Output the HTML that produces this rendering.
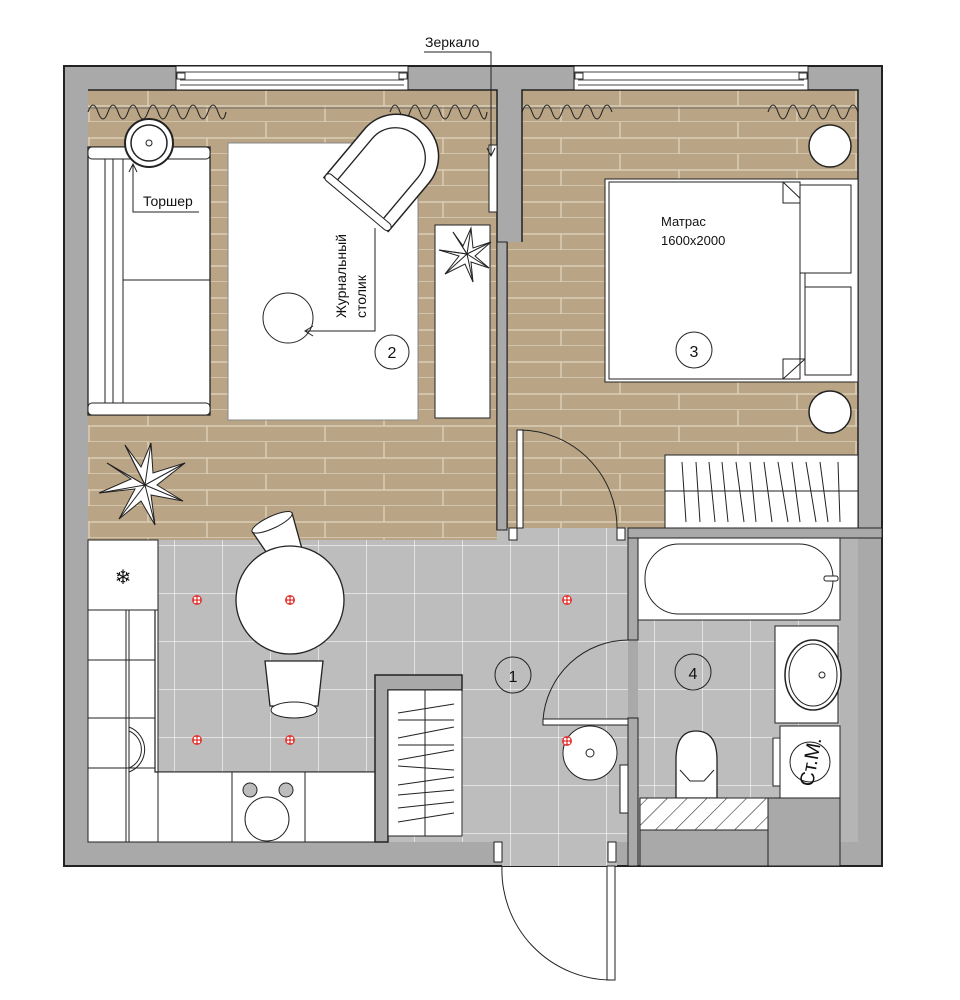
<!DOCTYPE html>
<html><head><meta charset="utf-8"><style>
html,body{margin:0;padding:0;background:#fff;width:960px;height:1000px;overflow:hidden}
svg{display:block}
text{font-family:"Liberation Sans","DejaVu Sans",sans-serif;fill:#111}
</style></head><body>
<svg width="960" height="1000" viewBox="0 0 960 1000" xmlns="http://www.w3.org/2000/svg">
<defs>
<pattern id="wood" x="0" y="90" width="118" height="32" patternUnits="userSpaceOnUse">
<rect width="118" height="32" fill="#b9a585"/>
<path d="M0 16H118M0 32H118M30 0V16M89 16V32" stroke="#e2d6c0" stroke-width="1.2"/>
</pattern>
<pattern id="tile" x="30" y="17" width="48" height="48" patternUnits="userSpaceOnUse">
<rect width="48" height="48" fill="#bdbdbd"/>
<path d="M0 0H48M0 0V48" stroke="#efefef" stroke-width="1.5"/>
</pattern>
<pattern id="hatch" width="14" height="14" patternUnits="userSpaceOnUse" patternTransform="rotate(45)">
<rect width="14" height="14" fill="#fff"/><path d="M0 0V14" stroke="#333" stroke-width="1.2"/>
</pattern>
<g id="dot"><circle r="5" fill="#e53935"/><circle r="1.3" cx="-1.8" cy="-1.8" fill="#fff"/><circle r="1.3" cx="1.8" cy="-1.8" fill="#fff"/><circle r="1.3" cx="-1.8" cy="1.8" fill="#fff"/><circle r="1.3" cx="1.8" cy="1.8" fill="#fff"/></g>
</defs>

<!-- walls -->
<rect x="64" y="66" width="818" height="800" fill="#a9a9a9" stroke="#222" stroke-width="2"/>
<!-- floors -->
<rect x="88" y="90" width="409" height="450" fill="url(#wood)"/>
<rect x="522" y="90" width="336" height="152" fill="url(#wood)"/>
<rect x="507" y="242" width="351" height="286" fill="url(#wood)"/>
<rect x="88" y="540" width="540" height="302" fill="url(#tile)"/>
<rect x="497" y="528" width="131" height="12" fill="url(#tile)"/>
<rect x="638" y="620" width="202" height="178" fill="url(#tile)"/>
<rect x="840" y="528" width="18" height="314" fill="#b5b5b5"/>
<rect x="502" y="842" width="115" height="24" fill="url(#tile)"/>
<!-- floor outlines -->
<path d="M88 90H497V242M522 242V90H858V528" fill="none" stroke="#222" stroke-width="1.5"/>
<path d="M507 242V528M497 242V530" stroke="#222" stroke-width="1.5"/>
<rect x="497" y="242" width="10" height="288" fill="#a9a9a9" stroke="#222" stroke-width="1"/>
<rect x="628" y="528" width="10" height="112" fill="#a9a9a9" stroke="#222"/>
<rect x="628" y="718" width="10" height="148" fill="#a9a9a9" stroke="#222"/>
<rect x="628" y="528" width="254" height="10" fill="#a9a9a9" stroke="#222" stroke-width="1"/>
<!-- windows -->
<rect x="176" y="66" width="232" height="24" fill="#fff" stroke="#222"/>
<path d="M176 72H408M180 80H404M180 85H404" stroke="#444" stroke-width="1"/>
<rect x="177" y="73" width="8" height="6" fill="#fff" stroke="#333"/><rect x="399" y="73" width="8" height="6" fill="#fff" stroke="#333"/>
<rect x="574" y="66" width="234" height="24" fill="#fff" stroke="#222"/>
<path d="M574 72H808M578 80H804M578 85H804" stroke="#444" stroke-width="1"/>
<rect x="575" y="73" width="8" height="6" fill="#fff" stroke="#333"/><rect x="799" y="73" width="8" height="6" fill="#fff" stroke="#333"/>
<!-- curtains -->
<g fill="none" stroke="#222" stroke-width="1.1">
<path d="M88 112q5 -14 10 0t10 0t10 0t10 0t10 0t10 0t10 0t10 0t10 0t10 0t10 0t10 0t10 0t8 0"/>
<path d="M390 112q5 -14 10 0t10 0t10 0t10 0t10 0t10 0t10 0t10 0t10 0t7 0"/>
<path d="M522 112q5 -14 10 0t10 0t10 0t10 0t10 0t10 0t10 0t10 0t10 0"/>
<path d="M768 112q5 -14 10 0t10 0t10 0t10 0t10 0t10 0t10 0t10 0t10 0"/>
<path d="M88 108H497M522 108H858" stroke="#555" stroke-width="0.8"/>
</g>
<!-- mirror -->
<rect x="489" y="145" width="8" height="67" fill="#fff" stroke="#222"/>
<path d="M424 52H491V155" fill="none" stroke="#222"/><path d="M487 148l4 8l4-8" fill="none" stroke="#222"/>
<text x="425" y="47" font-size="14">Зеркало</text>

<!-- sofa -->
<rect x="88" y="147" width="122" height="268" fill="#fff" stroke="#222" stroke-width="1.3"/>
<rect x="88" y="147" width="122" height="12" rx="4" fill="#fff" stroke="#222"/>
<rect x="88" y="403" width="122" height="12" rx="4" fill="#fff" stroke="#222"/>
<path d="M105 159V403M113 159V403M123 159V403M123 280H210" stroke="#222" stroke-width="1"/>
<!-- torsher -->
<circle cx="149" cy="143" r="24" fill="#fff" stroke="#222" stroke-width="2"/>
<circle cx="149" cy="143" r="18" fill="#fff" stroke="#222" stroke-width="1.5"/>
<circle cx="149" cy="143" r="3" fill="#fff" stroke="#222"/>
<path d="M199 212H133V164M129 172l4-8l4 8" fill="none" stroke="#222"/>
<text x="143" y="206" font-size="14">Торшер</text>
<!-- rug -->
<rect x="228" y="143" width="190" height="277" fill="#fff" stroke="#888"/>
<!-- armchair -->
<g transform="translate(385,170) rotate(40)">
<path d="M-42 -18V45H42V-18A42 42 0 0 0 -42 -18Z" fill="#fff" stroke="#222" stroke-width="1.5"/>
<path d="M-30 -16V45M30 -16V45M-30 -16A30 30 0 0 1 30 -16" fill="none" stroke="#222" stroke-width="1.3"/>
<rect x="-42" y="38" width="84" height="8" rx="4" fill="#fff" stroke="#222"/>
</g>
<!-- coffee table -->
<circle cx="288" cy="318" r="25" fill="#fff" stroke="#222"/>
<path d="M375 228V331H305M313 326l-8 5l8 5" fill="none" stroke="#222"/>
<text transform="translate(346,318) rotate(-90)" font-size="14">Журнальный</text>
<text transform="translate(366,318) rotate(-90)" font-size="14">столик</text>
<circle cx="392" cy="352" r="17" fill="#fff" stroke="#222"/><text x="392" y="358" font-size="16" text-anchor="middle">2</text>
<!-- tv stand -->
<rect x="435" y="225" width="55" height="193" fill="#fff" stroke="#222"/>
<g transform="translate(467,254)" fill="#fff" stroke="#222" stroke-width="1">
<path d="M0 0L-14 -22L-4 -8L4 -26L6 -6L24 -12L8 2L22 14L4 8L6 28L-2 10L-22 20L-8 2L-28 -4Z"/>
<path d="M0 0L-14 -22M0 0L4 -26M0 0L24 -12M0 0L22 14M0 0L6 28M0 0L-22 20M0 0L-28 -4"/>
</g>
<!-- plant living -->
<g transform="translate(145,485)" fill="#fff" stroke="#222" stroke-width="1">
<path d="M0 0L-20 -40L-4 -18L6 -42L8 -12L40 -22L12 0L38 16L6 10L10 40L-4 16L-26 34L-10 4L-46 8L-14 -6L-38 -22Z"/>
<path d="M0 0L-20 -40M0 0L6 -42M0 0L40 -22M0 0L38 16M0 0L10 40M0 0L-26 34M0 0L-46 8M0 0L-38 -22"/>
</g>

<!-- bed -->
<rect x="605" y="179" width="253" height="203" fill="#fff" stroke="#222"/>
<rect x="609" y="182" width="191" height="197" fill="#fff" stroke="#222"/>
<path d="M783 182L805 203V359L783 379" fill="none" stroke="#222"/>
<path d="M783 182V203H805M783 379V359H805" fill="none" stroke="#222"/>
<rect x="800" y="185" width="51" height="88" fill="#fff" stroke="#222"/>
<rect x="805" y="287" width="46" height="88" fill="#fff" stroke="#222"/>
<text x="661" y="226" font-size="13">Матрас</text>
<text x="661" y="245" font-size="13">1600x2000</text>
<circle cx="694" cy="350" r="18" fill="#fff" stroke="#222"/><text x="694" y="357" font-size="16" text-anchor="middle">3</text>
<circle cx="830" cy="146" r="21" fill="#fff" stroke="#222" stroke-width="1.5"/>
<circle cx="830" cy="412" r="21" fill="#fff" stroke="#222" stroke-width="1.5"/>
<!-- bedroom wardrobe -->
<rect x="665" y="455" width="193" height="73" fill="#fff" stroke="#222"/>
<path d="M665 491H858" stroke="#222"/>
<g stroke="#222"><path d="M682 462l4 60M696 462l4 60M709 462l6 60M722 462l6 60M736 462l8 60M750 462l6 60M764 462l8 60M778 462l10 60M792 462l8 60M806 462l10 60M820 462l8 60M838 462l2 60"/></g>
<!-- bedroom door -->
<rect x="517" y="430" width="6" height="98" fill="#fff" stroke="#222"/>
<path d="M520 430A98 98 0 0 1 617 528" fill="none" stroke="#222"/>

<!-- bath -->
<rect x="638" y="538" width="202" height="82" fill="#fff" stroke="#222"/>
<rect x="645" y="544" width="188" height="70" rx="34" fill="#fff" stroke="#222"/>
<rect x="824" y="576" width="14" height="5" rx="2" fill="#fff" stroke="#222"/>
<!-- sink -->
<rect x="775" y="626" width="63" height="97" fill="#fff" stroke="#222"/>
<ellipse cx="813" cy="675" rx="28" ry="35" fill="#fff" stroke="#222" stroke-width="1.5"/>
<ellipse cx="813" cy="675" rx="24" ry="31" fill="none" stroke="#222"/>
<circle cx="822" cy="675" r="3" fill="#fff" stroke="#222"/>
<!-- washer -->
<rect x="780" y="726" width="60" height="72" fill="#fff" stroke="#222"/>
<rect x="773" y="738" width="7" height="48" fill="#fff" stroke="#222"/>
<circle cx="810" cy="762" r="20" fill="#fff" stroke="#222"/>
<text transform="translate(812,762) rotate(-80)" font-size="20" text-anchor="middle" dominant-baseline="middle">Ст.М.</text>
<!-- toilet -->
<path d="M676 798V760Q676 731 696 731Q717 731 717 760V798Z" fill="#fff" stroke="#222" stroke-width="1.3"/>
<path d="M680 770L690 781H704L714 770" fill="none" stroke="#222"/>
<!-- hatched -->
<rect x="640" y="798" width="128" height="32" fill="url(#hatch)" stroke="#222"/>
<rect x="640" y="830" width="128" height="36" fill="#a9a9a9" stroke="#222"/>
<rect x="768" y="798" width="72" height="68" fill="#a9a9a9" stroke="#222"/>
<circle cx="693" cy="672" r="18" fill="none" stroke="#222"/><text x="693" y="679" font-size="16" text-anchor="middle">4</text>
<!-- bathroom door -->
<rect x="543" y="719" width="85" height="6" fill="#fff" stroke="#222"/>
<path d="M543 720A86 86 0 0 1 629 640" fill="none" stroke="#222"/>
<!-- hall round table -->
<circle cx="590" cy="753" r="27" fill="#fff" stroke="#222"/>
<circle cx="590" cy="753" r="4" fill="#fff" stroke="#222"/>
<rect x="620" y="765" width="8" height="48" fill="#fff" stroke="#222"/>
<circle cx="513" cy="675" r="18" fill="none" stroke="#222"/><text x="513" y="682" font-size="16" text-anchor="middle">1</text>

<!-- kitchen -->
<rect x="88" y="540" width="70" height="70" fill="#fff" stroke="#222"/>
<text x="123" y="584" font-size="20" text-anchor="middle" fill="#444">❄</text>
<rect x="88" y="610" width="70" height="232" fill="#fff" stroke="#222"/>
<path d="M126 610V842M129 610V842M88 660H155M88 718H155M88 768H155" stroke="#222"/>
<path d="M129 727A24 24 0 0 1 129 772M129 731A20 20 0 0 1 129 768" fill="none" stroke="#222"/>
<path d="M155 610V772H375" fill="none" stroke="#222" stroke-width="1.2"/>
<rect x="158" y="772" width="217" height="70" fill="#fff" stroke="#222"/>
<rect x="232" y="772" width="73" height="70" fill="#fff" stroke="#222"/>
<circle cx="250" cy="790" r="7" fill="#bdbdbd" stroke="#222"/><circle cx="286" cy="790" r="7" fill="#bdbdbd" stroke="#222"/>
<circle cx="267" cy="819" r="22" fill="#fff" stroke="#222"/>
<!-- hall wardrobe -->
<path d="M375 675H462V690H388V842H375Z" fill="#a9a9a9" stroke="#222" stroke-width="1.5"/>
<rect x="388" y="690" width="74" height="146" fill="#fff" stroke="#222"/>
<path d="M425 690V836" stroke="#222"/>
<g stroke="#222"><path d="M398 713L454 704M398 720H454M398 738L454 727M398 745H454M398 760L454 750M398 766L454 770M398 785L454 777M398 795L454 790M398 808L454 802M398 822L454 813"/></g>
<!-- dining -->
<g transform="translate(278,535) rotate(-25)"><path d="M-22 -14H22L16 22H-16Z" fill="#fff" stroke="#222" stroke-width="1.3"/><ellipse cx="0" cy="-14" rx="22" ry="6" fill="#fff" stroke="#222"/></g>
<circle cx="290" cy="600" r="54" fill="#fff" stroke="#222" stroke-width="1.3"/>
<path d="M265 661H323L318 706H270Z" fill="#fff" stroke="#222" stroke-width="1.3"/>
<ellipse cx="294" cy="710" rx="23" ry="8" fill="#fff" stroke="#222"/>
<use href="#dot" x="197" y="600"/><use href="#dot" x="290" y="600"/><use href="#dot" x="567" y="600"/>
<use href="#dot" x="197" y="740"/><use href="#dot" x="290" y="740"/><use href="#dot" x="567" y="741"/>

<!-- entrance -->
<rect x="494" y="842" width="8" height="20" fill="#fff" stroke="#222"/>
<rect x="608" y="842" width="8" height="20" fill="#fff" stroke="#222"/>
<rect x="607" y="866" width="8" height="114" fill="#fff" stroke="#222"/>
<path d="M502 866A110 110 0 0 0 611 980" fill="none" stroke="#222"/>
<rect x="509" y="528" width="8" height="12" fill="#fff" stroke="#222"/>
<rect x="617" y="528" width="8" height="12" fill="#fff" stroke="#222"/>
</svg>
</body></html>
